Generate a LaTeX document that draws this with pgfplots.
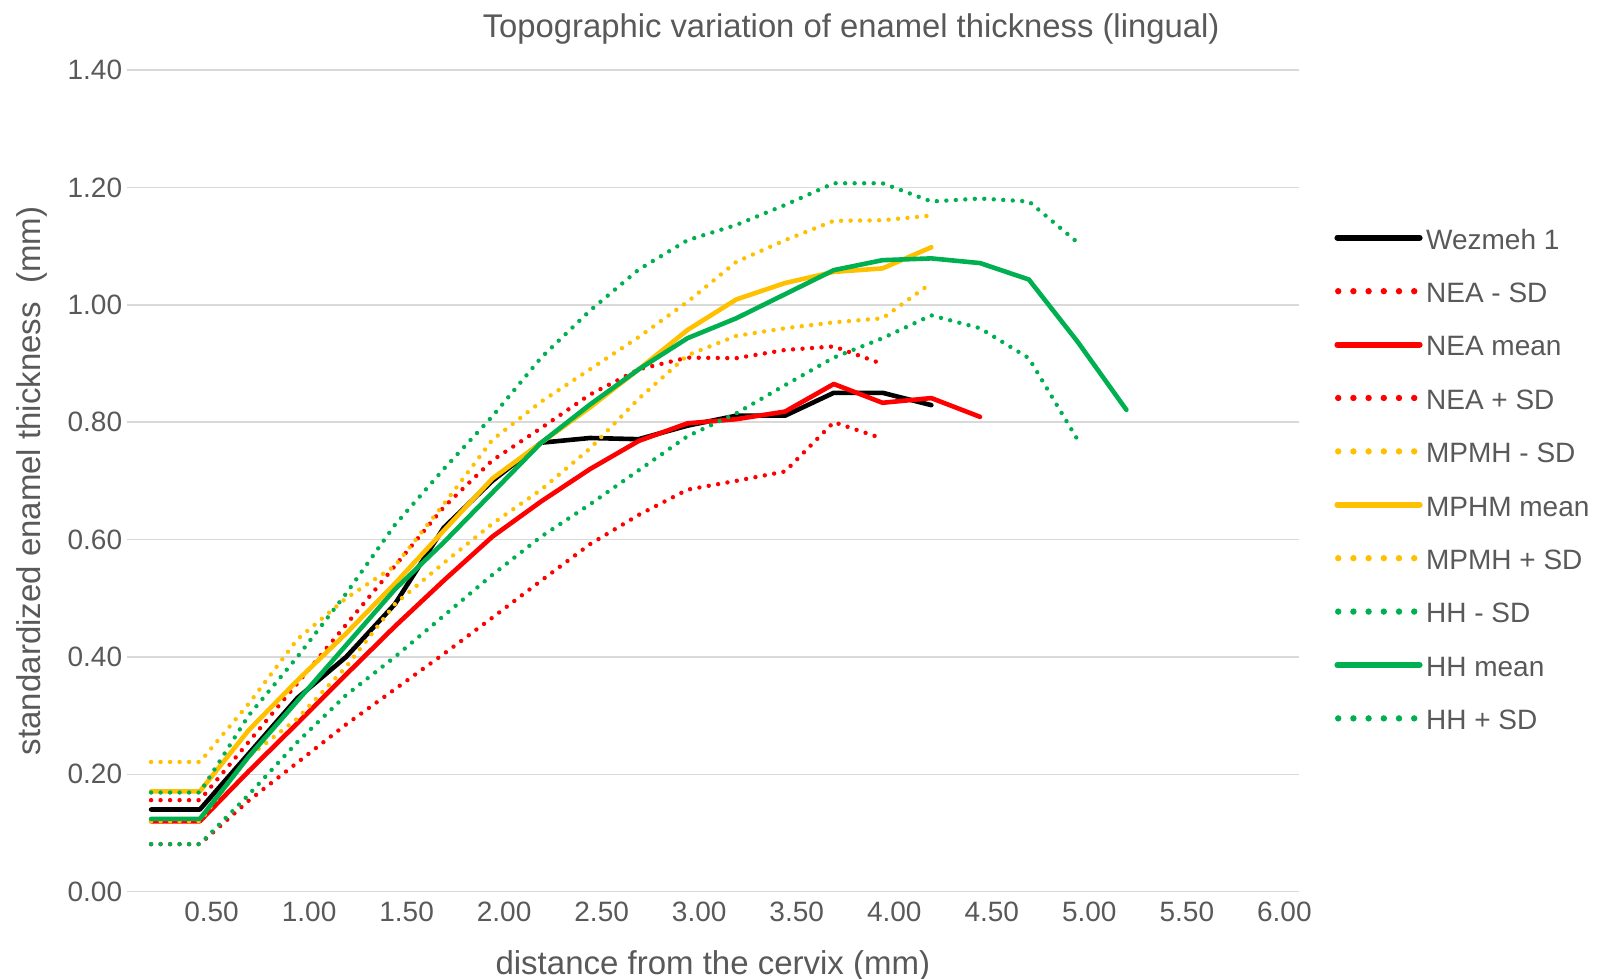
\documentclass[border=0pt]{standalone}
\usepackage{fontspec}
\setmainfont{Liberation Sans}
\usepackage{pgfplots}
\pgfplotsset{compat=1.18}

\definecolor{txt}{HTML}{595959}
\definecolor{gridc}{HTML}{D9D9D9}
\definecolor{cNEA}{HTML}{FF0000}
\definecolor{cMP}{HTML}{FFC000}
\definecolor{cHH}{HTML}{00B050}

\pgfplotsset{
  solid line/.style={line width=2.3pt, line join=round, line cap=round,
    legend image code/.code={
      \path[draw=none, fill=none] (0pt,-0.7pt) rectangle (44pt,5.3pt);
      \draw[##1, line width=3pt] (1.4pt,2.3pt) -- (42.5pt,2.3pt);}},
  dot line/.style={line width=2.2pt, line cap=round, dash pattern=on 0pt off 4.75pt,
    legend image code/.code={
      \path[draw=none, fill=none] (0pt,-0.7pt) rectangle (44pt,5.3pt);
      \draw[##1, line width=3.2pt, dash pattern=on 0pt off 7.6pt] (1.8pt,2.3pt) -- (40pt,2.3pt);}},
}

\begin{document}
\begin{tikzpicture}
\path[use as bounding box] (-63.35pt,-43.65pt) rectangle (735.15pt,445.85pt);
\begin{axis}[
  at={(0pt,0pt)}, anchor=south west,
  scale only axis, width=586.15pt, height=410.85pt,
  xmin=0.065, xmax=6.075, ymin=0, ymax=1.4,
  xtick={0.5,1,1.5,2,2.5,3,3.5,4,4.5,5,5.5,6},
  ytick={0,0.2,0.4,0.6,0.8,1.0,1.2,1.4},
  ymajorgrids, major grid style={draw=gridc, line width=0.75pt},
  axis line style={draw=none}, major tick length=0pt, tick style={draw=none},
  ticklabel style={font=\fontsize{14}{16}\selectfont, text=txt},
  xticklabel style={anchor=base, yshift=-15pt, inner sep=0pt},
  yticklabel style={anchor=east, xshift=-2.1pt, inner sep=0pt},
  /pgf/number format/fixed, /pgf/number format/fixed zerofill,
  /pgf/number format/precision=2, /pgf/number format/assume math mode=true,
  title={Topographic variation of enamel thickness (lingual)},
  title style={at={(axis description cs:0.6179,1.0253)}, anchor=base,
    font=\fontsize{16.4}{19}\selectfont, text=txt, inner sep=0pt},
  xlabel={distance from the cervix (mm)},
  xlabel style={at={(axis description cs:0.5,-0.1002)}, anchor=base,
    font=\fontsize{16.5}{19}\selectfont, text=txt, inner sep=0pt},
  ylabel={standardized enamel thickness\ \ (mm)},
  ylabel style={at={(axis description cs:-0.0812,0.5)}, anchor=center,
    font=\fontsize{16.5}{19}\selectfont, text=txt, inner sep=0pt},
  legend style={at={(axis description cs:1.0302,0.8064)}, anchor=north west,
    draw=none, fill=none, inner sep=0pt, outer sep=0pt,
    row sep=13.4pt, column sep=1.75pt,
    font=\fontsize{14}{16}\selectfont, text=txt,
    nodes={inner sep=0pt, text height=10pt, text depth=3.3pt}},
  legend cell align=left,
]
\addplot[solid line, black] table {
x y
0.19 0.140
0.44 0.140
0.69 0.235
0.94 0.330
1.19 0.400
1.44 0.490
1.69 0.620
1.94 0.700
2.19 0.765
2.44 0.773
2.69 0.771
2.94 0.794
3.19 0.811
3.44 0.811
3.69 0.850
3.94 0.850
4.19 0.829
};
\addlegendentry{Wezmeh 1}
\addplot[dot line, cNEA] table {
x y
0.19 0.081
0.44 0.081
0.69 0.155
0.94 0.220
1.19 0.285
1.44 0.345
1.69 0.405
1.94 0.467
2.19 0.530
2.44 0.592
2.69 0.642
2.94 0.685
3.19 0.700
3.44 0.716
3.69 0.800
3.94 0.772
};
\addlegendentry{NEA - SD}
\addplot[solid line, cNEA] table {
x y
0.19 0.120
0.44 0.120
0.69 0.205
0.94 0.287
1.19 0.370
1.44 0.452
1.69 0.530
1.94 0.605
2.19 0.665
2.44 0.720
2.69 0.768
2.94 0.798
3.19 0.805
3.44 0.818
3.69 0.865
3.94 0.833
4.19 0.841
4.44 0.809
};
\addlegendentry{NEA mean}
\addplot[dot line, cNEA] table {
x y
0.19 0.156
0.44 0.156
0.69 0.255
0.94 0.355
1.19 0.455
1.44 0.555
1.69 0.655
1.94 0.735
2.19 0.790
2.44 0.847
2.69 0.890
2.94 0.910
3.19 0.909
3.44 0.923
3.69 0.929
3.94 0.899
};
\addlegendentry{NEA + SD}
\addplot[dot line, cMP] table {
x y
0.19 0.120
0.44 0.120
0.69 0.230
0.94 0.295
1.19 0.383
1.44 0.490
1.69 0.560
1.94 0.627
2.19 0.685
2.44 0.755
2.69 0.840
2.94 0.914
3.19 0.947
3.44 0.960
3.69 0.970
3.94 0.977
4.19 1.037
};
\addlegendentry{MPMH - SD}
\addplot[solid line, cMP] table {
x y
0.19 0.171
0.44 0.171
0.69 0.275
0.94 0.360
1.19 0.440
1.44 0.525
1.69 0.615
1.94 0.704
2.19 0.765
2.44 0.825
2.69 0.890
2.94 0.957
3.19 1.009
3.44 1.037
3.69 1.056
3.94 1.062
4.19 1.098
};
\addlegendentry{MPHM mean}
\addplot[dot line, cMP] table {
x y
0.19 0.221
0.44 0.221
0.69 0.320
0.94 0.430
1.19 0.500
1.44 0.555
1.69 0.660
1.94 0.770
2.19 0.835
2.44 0.890
2.69 0.945
2.94 1.005
3.19 1.073
3.44 1.110
3.69 1.143
3.94 1.144
4.19 1.152
};
\addlegendentry{MPMH + SD}
\addplot[dot line, cHH] table {
x y
0.19 0.081
0.44 0.081
0.69 0.165
0.94 0.255
1.19 0.335
1.44 0.400
1.69 0.470
1.94 0.540
2.19 0.605
2.44 0.660
2.69 0.718
2.94 0.776
3.19 0.815
3.44 0.863
3.69 0.910
3.94 0.943
4.19 0.982
4.44 0.960
4.69 0.909
4.94 0.770
};
\addlegendentry{HH - SD}
\addplot[solid line, cHH] table {
x y
0.19 0.124
0.44 0.124
0.69 0.230
0.94 0.325
1.19 0.420
1.44 0.515
1.69 0.595
1.94 0.680
2.19 0.765
2.44 0.830
2.69 0.890
2.94 0.943
3.19 0.977
3.44 1.018
3.69 1.059
3.94 1.076
4.19 1.079
4.44 1.071
4.69 1.043
4.94 0.937
5.19 0.821
};
\addlegendentry{HH mean}
\addplot[dot line, cHH] table {
x y
0.19 0.169
0.44 0.169
0.69 0.300
0.94 0.400
1.19 0.508
1.44 0.625
1.69 0.720
1.94 0.810
2.19 0.910
2.44 0.990
2.69 1.060
2.94 1.110
3.19 1.136
3.44 1.170
3.69 1.207
3.94 1.207
4.19 1.176
4.44 1.181
4.69 1.176
4.94 1.106
};
\addlegendentry{HH + SD}
\end{axis}
\end{tikzpicture}
\end{document}
